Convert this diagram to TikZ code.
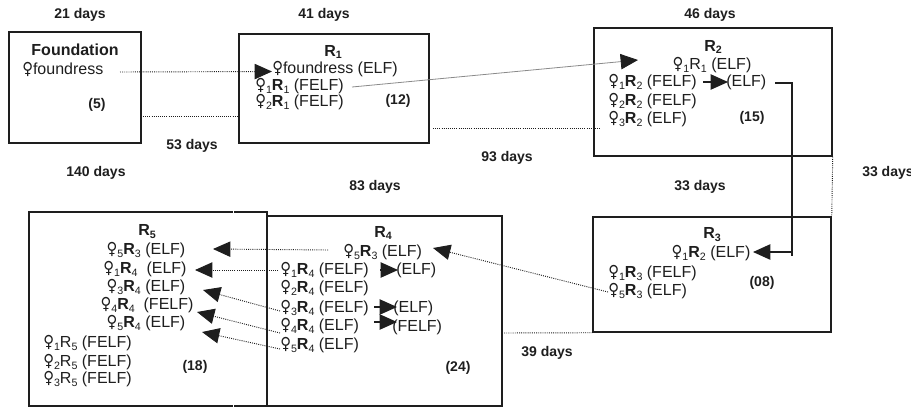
\documentclass[tikz,border=0pt]{standalone}
\usepackage{fontspec}
\setmainfont{Liberation Sans}
\newfontfamily\symf{DejaVu Sans}
\usetikzlibrary{arrows.meta,fit}

\definecolor{ink}{HTML}{1E1E1E}
\definecolor{faint}{HTML}{8A8A8A}

% female sign, subscripts and generation labels
\newcommand\sbx[1]{\raisebox{-0.35ex}{\fontsize{8}{9}\selectfont #1}}
\newcommand\fm{{\symf\scalebox{0.92}[1.04]{\char"2640}}}
\newcommand\fs[1]{\fm\sbx{#1}}
\newcommand\Rb[1]{\textbf{R}\sbx{#1}}
\newcommand\Rn[1]{R\sbx{#1}}
\newcommand\rowfont{\fontsize{12}{13}\selectfont}

\tikzset{
  panel/.style={draw=ink, line width=1.1pt, inner sep=0pt},
  rowtxt/.style={anchor=west, inner sep=0pt, font=\rowfont, text=ink},
  crowtxt/.style={rowtxt, anchor=center},
  daytxt/.style={inner sep=0pt, font=\bfseries\fontsize{10.5}{12}\selectfont, text=ink},
  cnttxt/.style={inner sep=0pt, font=\bfseries\fontsize{10.5}{12}\selectfont, text=ink},
  ttltxt/.style={inner sep=0pt, font=\bfseries\fontsize{12}{13}\selectfont, text=ink},
  dotln/.style={draw=ink, line width=0.7pt, dash pattern=on 0.7pt off 0.9pt},
  conn/.style={draw=ink, line width=1.1pt},
  thinln/.style={draw=ink, line width=0.8pt},
  bigtip/.style={-{Triangle[length=13pt,width=11.5pt,color=ink]}},
}

\begin{document}
\begin{tikzpicture}[x=0.75pt,y=-0.75pt]
\useasboundingbox (0,0) rectangle (911,408);

% ---- panels -------------------------------------------------------
\path (9,32) coordinate (F-a) (141,143) coordinate (F-b);
\node[panel, fit=(F-a)(F-b)] (F) {};
\path (239,34) coordinate (R1-a) (429,143) coordinate (R1-b);
\node[panel, fit=(R1-a)(R1-b)] (R1) {};
\path (594,28) coordinate (R2-a) (832,156) coordinate (R2-b);
\node[panel, fit=(R2-a)(R2-b)] (R2) {};
\path (593,217) coordinate (R3-a) (831,332) coordinate (R3-b);
\node[panel, fit=(R3-a)(R3-b)] (R3) {};
\path (29,212) coordinate (R5-a) (267,406) coordinate (R5-b);
\node[panel, fit=(R5-a)(R5-b)] (R5) {};
\path (267,216) coordinate (R4-a) (502,406) coordinate (R4-b);
\node[panel, fit=(R4-a)(R4-b)] (R4) {};
% small breaks in the R5 frame
\fill[white] (232.6,209) rectangle (233.9,215);
\fill[white] (232.6,403) rectangle (233.9,409);

% ---- durations ------------------------------------------------------
\node[daytxt] (d21) at (80,15) {21 days};
\node[daytxt] (d41) at (324,15) {41 days};
\node[daytxt] (d46) at (710,15) {46 days};
\node[daytxt] (d53) at (192,146) {53 days};
\node[daytxt] (d140) at (96,173) {140 days};
\node[daytxt] (d93) at (507,158) {93 days};
\node[daytxt] (d83) at (375,187) {83 days};
\node[daytxt] (d33a) at (700,187) {33 days};
\node[daytxt, anchor=west] (d33b) at (862,173) {33 days};
\node[daytxt] (d39) at (547,353) {39 days};

% ---- foundation -----------------------------------------------------
\node[inner sep=0pt, font=\bfseries\fontsize{12}{14}\selectfont, text=ink] (Ft) at (75,50) {Foundation};
\node[rowtxt] (fd) at (22,69) {\fm foundress};
\node[cnttxt] (c5) at (97,105) {(5)};

% ---- R1 ---------------------------------------------------------------
\node[ttltxt] (R1t) at (333,52) {R\sbx{\bfseries 1}};
\node[rowtxt] (r1a) at (272,69.5) {\fm foundress (ELF)};
\node[rowtxt] (r1b) at (255,86) {\fs{1}\Rb{1} (FELF)};
\node[rowtxt] (r1c) at (255,102.5) {\fs{2}\Rb{1} (FELF)};
\node[cnttxt] (c12) at (398,101) {(12)};

% ---- R2 ---------------------------------------------------------------
\node[ttltxt] (R2t) at (713,47) {R\sbx{\bfseries 2}};
\node[crowtxt] (r2a) at (712,65) {\fs{1}\Rn{1} (ELF)};
\node[rowtxt] (r2b) at (608,82) {\fs{1}\Rb{2} (FELF)};
\node[rowtxt] (r2bx) at (726,82) {(ELF)};
\node[rowtxt] (r2c) at (608,101) {\fs{2}\Rb{2} (FELF)};
\node[rowtxt] (r2d) at (608,119) {\fs{3}\Rb{2} (ELF)};
\node[cnttxt] (c15) at (752,118) {(15)};

% ---- R3 ---------------------------------------------------------------
\node[ttltxt] (R3t) at (712,235) {R\sbx{\bfseries 3}};
\node[crowtxt] (r3a) at (711,253) {\fs{1}\Rb{2} (ELF)};
\node[rowtxt] (r3b) at (608,273) {\fs{1}\Rb{3} (FELF)};
\node[rowtxt] (r3c) at (608,291) {\fs{5}\Rb{3} (ELF)};
\node[cnttxt] (c08) at (762,283) {(08)};

% ---- R4 ---------------------------------------------------------------
\node[ttltxt] (R4t) at (383,233) {R\sbx{\bfseries 4}};
\node[rowtxt] (r4a) at (343,252) {\fs{5}\Rb{3} (ELF)};
\node[rowtxt] (r4b) at (280,270) {\fs{1}\Rb{4} (FELF)};
\node[rowtxt] (r4bx) at (396,270) {(ELF)};
\node[rowtxt] (r4c) at (280,288) {\fs{2}\Rb{4} (FELF)};
\node[rowtxt] (r4d) at (280,308) {\fs{3}\Rb{4} (FELF)};
\node[rowtxt] (r4dx) at (393,308) {(ELF)};
\node[rowtxt] (r4e) at (280,326) {\fs{4}\Rb{4} (ELF)};
\node[rowtxt] (r4ex) at (392,327) {(FELF)};
\node[rowtxt] (r4f) at (280,345) {\fs{5}\Rb{4} (ELF)};
\node[cnttxt] (c24) at (458,368) {(24)};

% ---- R5 ---------------------------------------------------------------
\node[ttltxt] (R5t) at (147,232) {R\sbx{\bfseries 5}};
\node[crowtxt] (r5a) at (146,250) {\fs{5}\Rb{3} (ELF)};
\node[crowtxt] (r5b) at (145,269) {\fs{1}\Rb{4}\ \ (ELF)};
\node[crowtxt] (r5c) at (146,287) {\fs{3}\Rb{4} (ELF)};
\node[crowtxt] (r5d) at (147,305) {\fs{4}\Rb{4}\ \ (FELF)};
\node[crowtxt] (r5e) at (146,323) {\fs{5}\Rb{4} (ELF)};
\node[rowtxt] (r5f) at (43,343) {\fs{1}\Rn{5} (FELF)};
\node[rowtxt] (r5g) at (43,362) {\fs{2}\Rn{5} (FELF)};
\node[rowtxt] (r5h) at (43,379) {\fs{3}\Rn{5} (FELF)};
\node[cnttxt] (c18) at (195,367) {(18)};

% ---- connector end points ---------------------------------------------
\coordinate (fd-out) at (120,72);
\coordinate (F-low) at (143,116);
\coordinate (R1-low) at (239,116);
\coordinate (r1b-out) at (352,87);
\coordinate (r2-in) at (638,60);
\coordinate (R1-out) at (433,128);
\coordinate (R2-in) at (600,128);
\coordinate (r2-out) at (775,83);
\coordinate (bend-a) at (792,83);
\coordinate (bend-b) at (792,256);
\coordinate (bend-c) at (792,252);
\coordinate (r3-in) at (753,252);
\coordinate (r3c-out) at (608,292);
\coordinate (r4-in) at (433,248);
\coordinate (R4-out) at (502,333);

\coordinate (r4a-out) at (328,250);
\coordinate (r5a-in) at (213,249);
\coordinate (r4b-out) at (278,270);
\coordinate (r5b-in) at (195,270);
\coordinate (r4d-out) at (280,311);
\coordinate (r5c-in) at (203,290);
\coordinate (r4e-out) at (280,333);
\coordinate (r5d-in) at (197,312);
\coordinate (r4f-out) at (280,349);
\coordinate (r5e-in) at (202,332);

% ---- connectors -------------------------------------------------------
\draw[dotln, bigtip] (fd-out) -- ([yshift=-1.5pt]r1a.west);
\draw[dotln] (F-low) -- (R1-low);
\draw[draw=faint, line width=0.6pt, bigtip] (r1b-out) -- (r2-in);
\draw[dotln] (R1-out) -- (R2-in);

\draw[thinln, bigtip] ([xshift=-17pt]r2bx.west) -- ([xshift=1.5pt]r2bx.west);
\draw[conn] (r2-out) -- (bend-a) -- (bend-b);
\draw[conn, bigtip] (bend-c) -- (r3-in);
\draw[dotln] (R2.south east) -- (R3.north east);

\draw[dotln, bigtip] (r3c-out) -- (r4-in);
\draw[dotln] (R4-out) -- (R3.south west);

\draw[thinln, bigtip] ([xshift=-12pt]r4bx.west) -- ([xshift=1.5pt]r4bx.west);
\draw[thinln, bigtip] ([xshift=-14pt,yshift=0.75pt]r4dx.west) -- ([xshift=3pt,yshift=0.75pt]r4dx.west);
\draw[thinln, bigtip] ([xshift=-13.5pt,yshift=3.75pt]r4ex.west) -- ([xshift=3.75pt,yshift=3.75pt]r4ex.west);

\draw[dotln, bigtip] (r4a-out) -- (r5a-in);
\draw[dotln, bigtip] (r4b-out) -- (r5b-in);
\draw[dotln, bigtip] (r4d-out) -- (r5c-in);
\draw[dotln, bigtip] (r4e-out) -- (r5d-in);
\draw[dotln, bigtip] (r4f-out) -- (r5e-in);
\end{tikzpicture}
\end{document}
